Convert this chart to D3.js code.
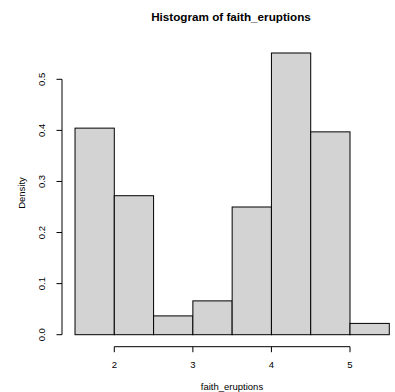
<!DOCTYPE html>
<html>
<head>
<meta charset="utf-8">
<script src="https://cdn.jsdelivr.net/npm/d3@7"></script>
<style>
  html, body { margin: 0; padding: 0; background: #fff; }
  svg { display: block; }
  text { font-family: "Liberation Sans", Arial, Helvetica, sans-serif; fill: #000; }
</style>
</head>
<body>
<svg id="chart" width="395" height="392"></svg>
<script>
// Histogram bins (eruption duration, minutes) and their densities
const binStarts = [1.5, 2.0, 2.5, 3.0, 3.5, 4.0, 4.5, 5.0];
const binEnds   = [2.0, 2.5, 3.0, 3.5, 4.0, 4.5, 5.0, 5.5];
const densities = [0.4044, 0.2721, 0.0368, 0.0662, 0.2500, 0.5515, 0.3971, 0.0221];
const xTicks = [2, 3, 4, 5];
const yTicks = [0.0, 0.1, 0.2, 0.3, 0.4, 0.5];

const titleText = "Histogram of faith_eruptions";
const xLabel = "faith_eruptions";
const yLabel = "Density";

const svg = d3.select("#chart");

const x = d3.scaleLinear().domain([2, 5]).range([114.3, 350.0]);
const y = d3.scaleLinear().domain([0, 0.5]).range([334.7, 79.3]);

// bars
svg.append("g")
  .selectAll("rect")
  .data(densities)
  .join("rect")
  .attr("x", (d, i) => x(binStarts[i]))
  .attr("width", (d, i) => x(binEnds[i]) - x(binStarts[i]))
  .attr("y", d => y(d))
  .attr("height", d => y(0) - y(d))
  .attr("fill", "#d3d3d3")
  .attr("stroke", "#000")
  .attr("stroke-width", 1);

// x axis: line spans first to last tick
const xAxisY = 346.7;
const xg = svg.append("g").attr("stroke", "#000").attr("stroke-width", 1);
xg.append("line")
  .attr("x1", x(xTicks[0])).attr("x2", x(xTicks[xTicks.length - 1]))
  .attr("y1", xAxisY).attr("y2", xAxisY);
xg.selectAll("line.tick")
  .data(xTicks)
  .join("line")
  .attr("class", "tick")
  .attr("x1", d => x(d)).attr("x2", d => x(d))
  .attr("y1", xAxisY).attr("y2", xAxisY + 5.5);
svg.append("g")
  .selectAll("text")
  .data(xTicks)
  .join("text")
  .attr("x", d => x(d))
  .attr("y", 364.5)
  .attr("text-anchor", "middle")
  .attr("dominant-baseline", "central")
  .style("font-size", "9.5px")
  .text(d => d);

// y axis
const yAxisX = 62;
const yg = svg.append("g").attr("stroke", "#000").attr("stroke-width", 1);
yg.append("line")
  .attr("x1", yAxisX).attr("x2", yAxisX)
  .attr("y1", y(yTicks[0])).attr("y2", y(yTicks[yTicks.length - 1]));
yg.selectAll("line.tick")
  .data(yTicks)
  .join("line")
  .attr("class", "tick")
  .attr("x1", yAxisX - 5.5).attr("x2", yAxisX)
  .attr("y1", d => y(d)).attr("y2", d => y(d));
svg.append("g")
  .selectAll("text")
  .data(yTicks)
  .join("text")
  .attr("transform", d => `translate(41.7,${y(d)}) rotate(-90)`)
  .attr("text-anchor", "middle")
  .attr("dominant-baseline", "central")
  .style("font-size", "9.5px")
  .text(d => d.toFixed(1));

// titles
svg.append("text")
  .attr("x", 231)
  .attr("y", 16.5)
  .attr("text-anchor", "middle")
  .attr("dominant-baseline", "central")
  .style("font-size", "11.7px")
  .style("font-weight", "bold")
  .text(titleText);

svg.append("text")
  .attr("x", 232)
  .attr("y", 386.5)
  .attr("text-anchor", "middle")
  .attr("dominant-baseline", "central")
  .style("font-size", "9.5px")
  .text(xLabel);

svg.append("text")
  .attr("transform", "translate(21.7,193) rotate(-90)")
  .attr("text-anchor", "middle")
  .attr("dominant-baseline", "central")
  .style("font-size", "9.5px")
  .text(yLabel);
</script>
</body>
</html>
